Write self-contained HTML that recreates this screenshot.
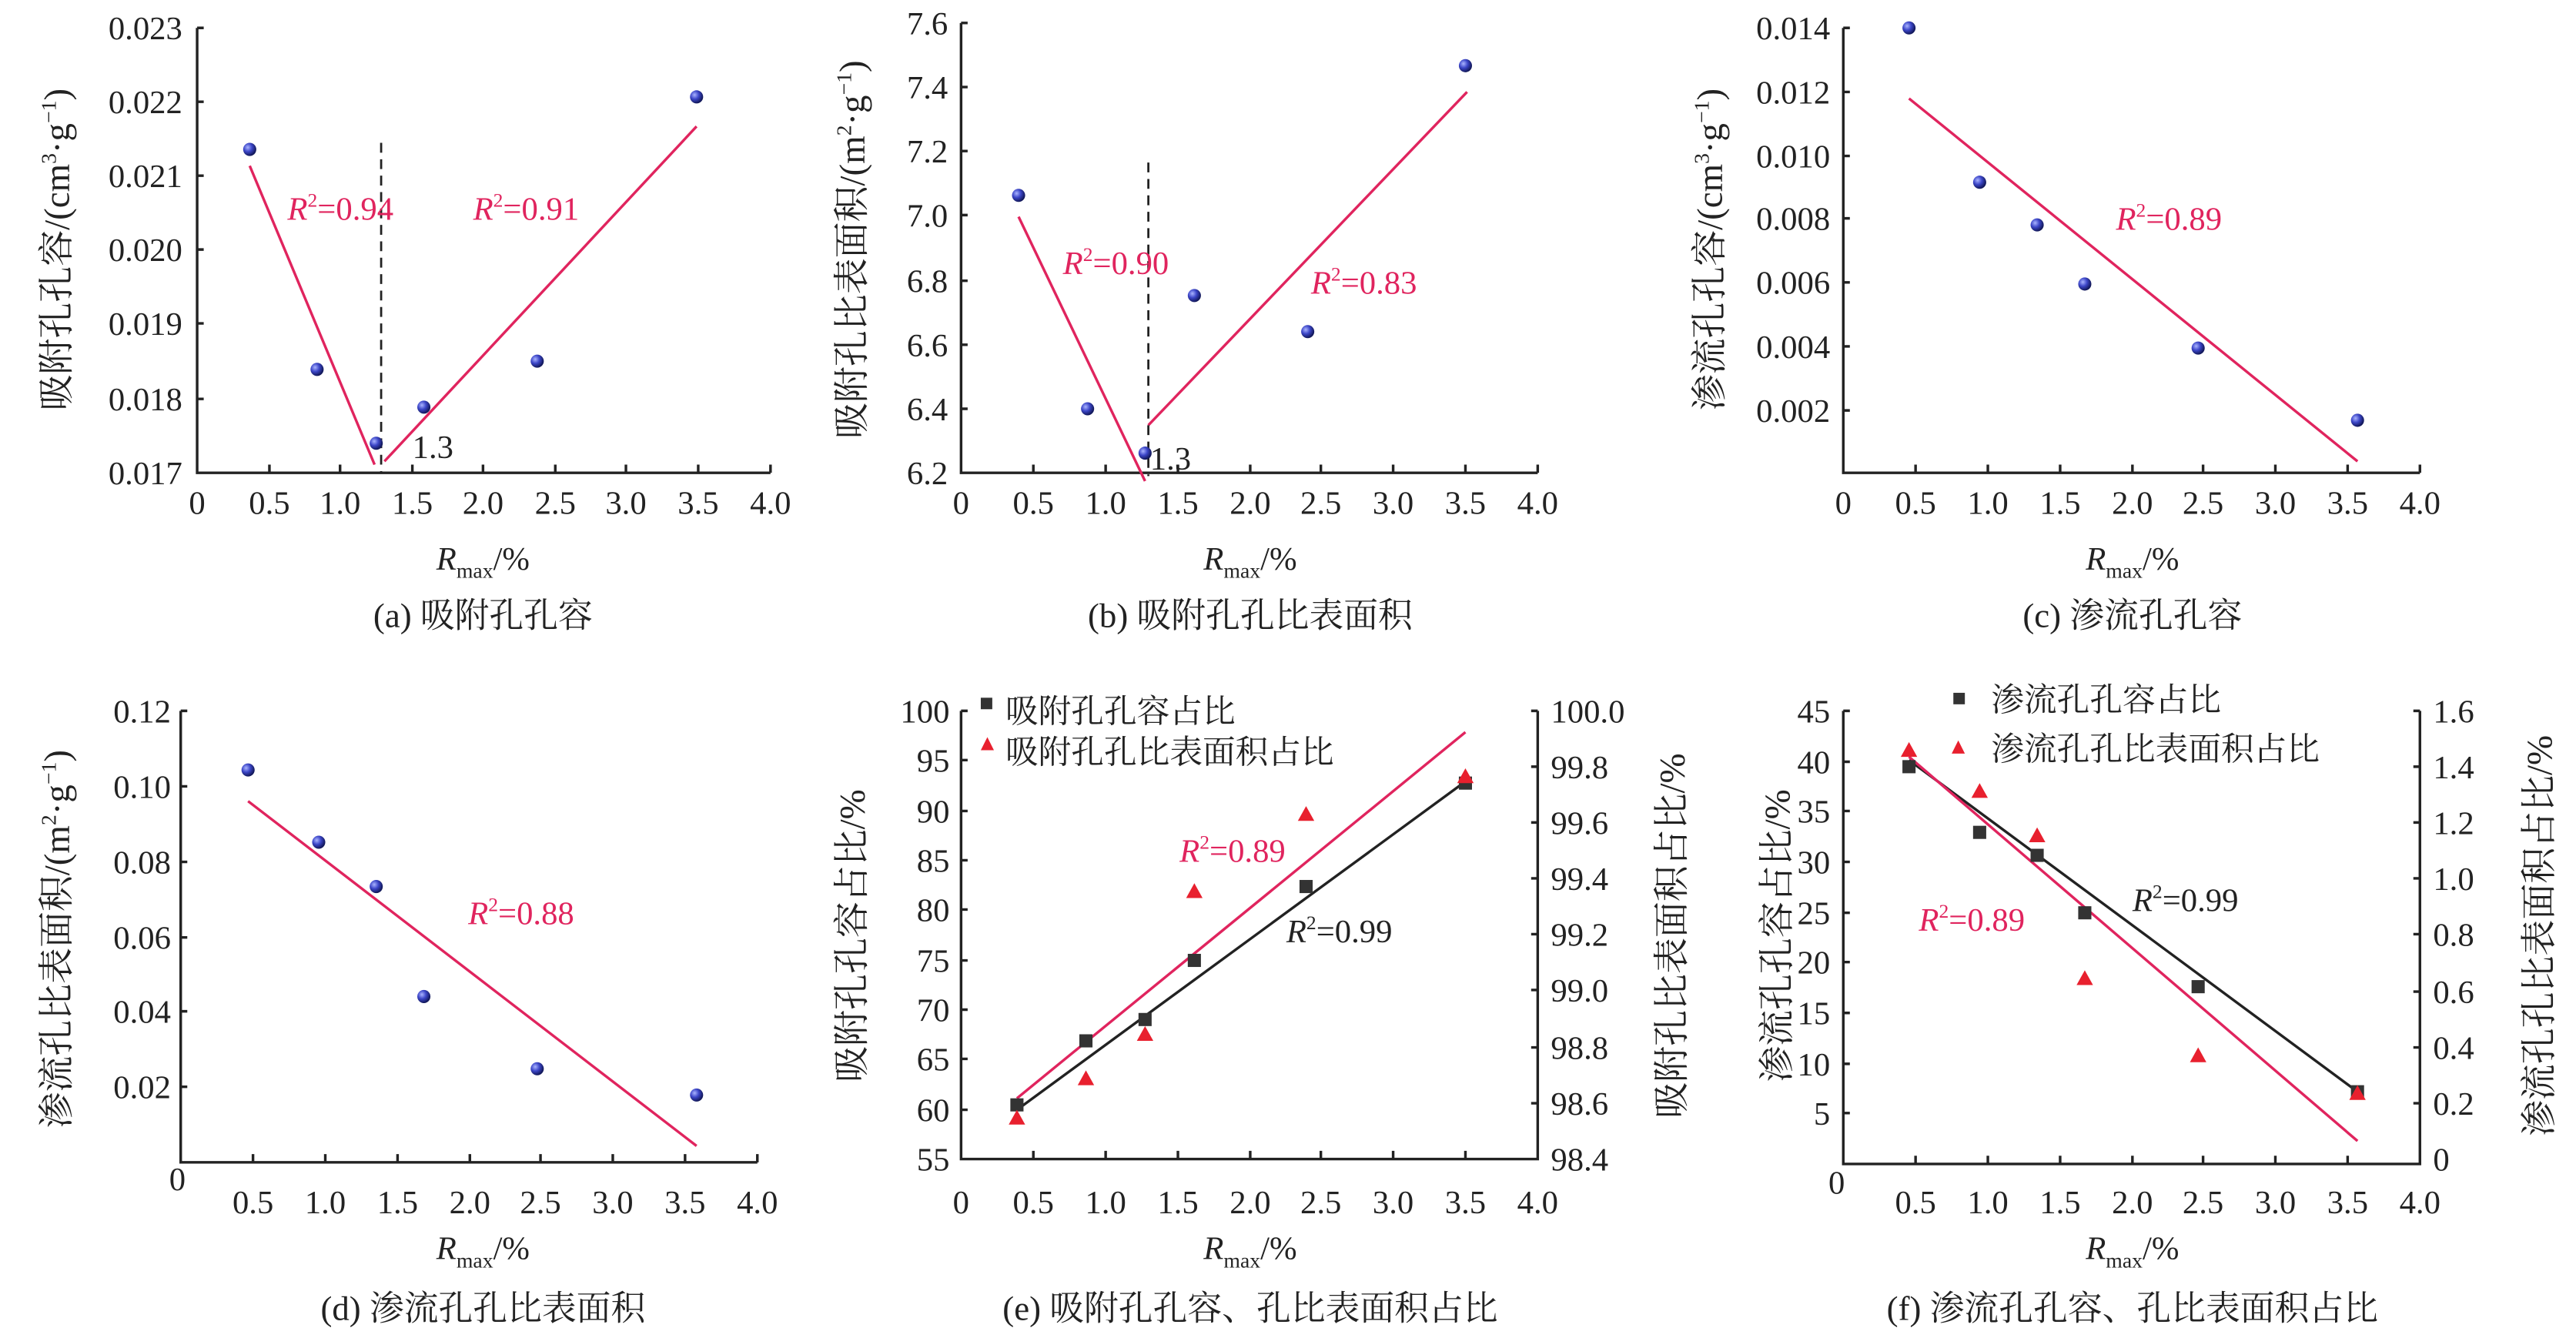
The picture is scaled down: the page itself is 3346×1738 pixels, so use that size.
<!DOCTYPE html>
<html><head><meta charset="utf-8"><style>
html,body{margin:0;padding:0;background:#fff;width:3346px;height:1738px;overflow:hidden}
svg{display:block}
text{font-family:"Liberation Serif","Noto Serif CJK SC","Noto Sans CJK SC",serif;fill:#222;font-size:20px}
.r{fill:#e0245e}
.ax{stroke:#222;stroke-width:1.6;fill:none}
.fit{stroke:#e0245e;stroke-width:1.6}
.bk{stroke:#222;stroke-width:1.6}
.cap{font-size:21px}
.yt{font-size:22px}
</style></head><body>
<svg width="3346" height="1738" viewBox="0 0 1568 815" preserveAspectRatio="none" xmlns="http://www.w3.org/2000/svg">
<defs>
<radialGradient id="ball" cx="35%" cy="35%" r="65%"><stop offset="0" stop-color="#aab4ff"/><stop offset="0.5" stop-color="#3c46c8"/><stop offset="1" stop-color="#12185a"/></radialGradient>
</defs>

<!-- ===== Panel a ===== -->
<path class="ax" d="M120,17 V288 H469"/>
<g class="ax"><path d="M120,17h4M120,62h4M120,107h4M120,152h4M120,197h4M120,243h4"/>
<path d="M164,288v-5M207,288v-5M251,288v-5M294,288v-5M338,288v-5M381,288v-5M425,288v-5M469,288v-5"/></g>
<g text-anchor="end"><text x="111" y="24">0.023</text><text x="111" y="69">0.022</text><text x="111" y="114">0.021</text><text x="111" y="159">0.020</text><text x="111" y="204">0.019</text><text x="111" y="250">0.018</text><text x="111" y="295">0.017</text></g>
<g text-anchor="middle"><text x="120" y="313">0</text><text x="164" y="313">0.5</text><text x="207" y="313">1.0</text><text x="251" y="313">1.5</text><text x="294" y="313">2.0</text><text x="338" y="313">2.5</text><text x="381" y="313">3.0</text><text x="425" y="313">3.5</text><text x="469" y="313">4.0</text></g>
<line class="fit" x1="152" y1="101" x2="228" y2="283"/><line class="fit" x1="234" y1="281" x2="424" y2="77"/>
<line x1="232" y1="87" x2="232" y2="288" stroke="#222" stroke-width="1.3" stroke-dasharray="6,4"/>
<g fill="url(#ball)"><circle cx="152" cy="91" r="4"/><circle cx="193" cy="225" r="4"/><circle cx="229" cy="270" r="4"/><circle cx="258" cy="248" r="4"/><circle cx="327" cy="220" r="4"/><circle cx="424" cy="59" r="4"/></g>
<text x="251" y="279">1.3</text>
<text class="r" x="175" y="134"><tspan font-style="italic">R</tspan><tspan font-size="12" dy="-8">2</tspan><tspan dy="8">=0.94</tspan></text>
<text class="r" x="288" y="134"><tspan font-style="italic">R</tspan><tspan font-size="12" dy="-8">2</tspan><tspan dy="8">=0.91</tspan></text>
<text class="yt" transform="translate(42,152) rotate(-90)" text-anchor="middle">吸附孔孔容/(cm<tspan font-size="13" dy="-8">3</tspan><tspan dy="8">·g</tspan><tspan font-size="13" dy="-8">−1</tspan><tspan dy="8">)</tspan></text>
<text x="294" y="347" text-anchor="middle"><tspan font-style="italic">R</tspan><tspan font-size="13" dy="5">max</tspan><tspan dy="-5">/%</tspan></text>
<text class="cap" x="294" y="382" text-anchor="middle">(a) 吸附孔孔容</text>

<!-- ===== Panel b ===== -->
<path class="ax" d="M585,14 V288 H936"/>
<g class="ax"><path d="M585,14h4M585,53h4M585,92h4M585,131h4M585,171h4M585,210h4M585,249h4"/>
<path d="M629,288v-5M673,288v-5M717,288v-5M761,288v-5M804,288v-5M848,288v-5M892,288v-5M936,288v-5"/></g>
<g text-anchor="end"><text x="577" y="21">7.6</text><text x="577" y="60">7.4</text><text x="577" y="99">7.2</text><text x="577" y="138">7.0</text><text x="577" y="178">6.8</text><text x="577" y="217">6.6</text><text x="577" y="256">6.4</text><text x="577" y="295">6.2</text></g>
<g text-anchor="middle"><text x="585" y="313">0</text><text x="629" y="313">0.5</text><text x="673" y="313">1.0</text><text x="717" y="313">1.5</text><text x="761" y="313">2.0</text><text x="804" y="313">2.5</text><text x="848" y="313">3.0</text><text x="892" y="313">3.5</text><text x="936" y="313">4.0</text></g>
<line class="fit" x1="620" y1="132" x2="697" y2="293"/><line class="fit" x1="699" y1="259" x2="893" y2="56"/>
<line x1="699" y1="99" x2="699" y2="290" stroke="#222" stroke-width="1.3" stroke-dasharray="6,4"/>
<g fill="url(#ball)"><circle cx="620" cy="119" r="4"/><circle cx="662" cy="249" r="4"/><circle cx="697" cy="276" r="4"/><circle cx="727" cy="180" r="4"/><circle cx="796" cy="202" r="4"/><circle cx="892" cy="40" r="4"/></g>
<text x="700" y="286">1.3</text>
<text class="r" x="647" y="167"><tspan font-style="italic">R</tspan><tspan font-size="12" dy="-8">2</tspan><tspan dy="8">=0.90</tspan></text>
<text class="r" x="798" y="179"><tspan font-style="italic">R</tspan><tspan font-size="12" dy="-8">2</tspan><tspan dy="8">=0.83</tspan></text>
<text class="yt" transform="translate(526,152) rotate(-90)" text-anchor="middle">吸附孔比表面积/(m<tspan font-size="13" dy="-8">2</tspan><tspan dy="8">·g</tspan><tspan font-size="13" dy="-8">−1</tspan><tspan dy="8">)</tspan></text>
<text x="761" y="347" text-anchor="middle"><tspan font-style="italic">R</tspan><tspan font-size="13" dy="5">max</tspan><tspan dy="-5">/%</tspan></text>
<text class="cap" x="761" y="382" text-anchor="middle">(b) 吸附孔孔比表面积</text>

<!-- ===== Panel c ===== -->
<path class="ax" d="M1122,17 V288 H1473"/>
<g class="ax"><path d="M1122,17h4M1122,56h4M1122,95h4M1122,133h4M1122,172h4M1122,211h4M1122,250h4"/>
<path d="M1166,288v-5M1210,288v-5M1254,288v-5M1298,288v-5M1341,288v-5M1385,288v-5M1429,288v-5M1473,288v-5"/></g>
<g text-anchor="end"><text x="1114" y="24">0.014</text><text x="1114" y="63">0.012</text><text x="1114" y="102">0.010</text><text x="1114" y="140">0.008</text><text x="1114" y="179">0.006</text><text x="1114" y="218">0.004</text><text x="1114" y="257">0.002</text></g>
<g text-anchor="middle"><text x="1122" y="313">0</text><text x="1166" y="313">0.5</text><text x="1210" y="313">1.0</text><text x="1254" y="313">1.5</text><text x="1298" y="313">2.0</text><text x="1341" y="313">2.5</text><text x="1385" y="313">3.0</text><text x="1429" y="313">3.5</text><text x="1473" y="313">4.0</text></g>
<line class="fit" x1="1162" y1="60" x2="1435" y2="281"/>
<g fill="url(#ball)"><circle cx="1162" cy="17" r="4"/><circle cx="1205" cy="111" r="4"/><circle cx="1240" cy="137" r="4"/><circle cx="1269" cy="173" r="4"/><circle cx="1338" cy="212" r="4"/><circle cx="1435" cy="256" r="4"/></g>
<text class="r" x="1288" y="140"><tspan font-style="italic">R</tspan><tspan font-size="12" dy="-8">2</tspan><tspan dy="8">=0.89</tspan></text>
<text class="yt" transform="translate(1048,152) rotate(-90)" text-anchor="middle">渗流孔孔容/(cm<tspan font-size="13" dy="-8">3</tspan><tspan dy="8">·g</tspan><tspan font-size="13" dy="-8">−1</tspan><tspan dy="8">)</tspan></text>
<text x="1298" y="347" text-anchor="middle"><tspan font-style="italic">R</tspan><tspan font-size="13" dy="5">max</tspan><tspan dy="-5">/%</tspan></text>
<text class="cap" x="1298" y="382" text-anchor="middle">(c) 渗流孔孔容</text>

<!-- ===== Panel d ===== -->
<path class="ax" d="M110,433 V708 H461"/>
<g class="ax"><path d="M110,433h4M110,479h4M110,525h4M110,571h4M110,616h4M110,662h4"/>
<path d="M154,708v-5M198,708v-5M242,708v-5M286,708v-5M329,708v-5M373,708v-5M417,708v-5M461,708v-5"/></g>
<g text-anchor="end"><text x="104" y="440">0.12</text><text x="104" y="486">0.10</text><text x="104" y="532">0.08</text><text x="104" y="578">0.06</text><text x="104" y="623">0.04</text><text x="104" y="669">0.02</text></g>
<g text-anchor="middle"><text x="108" y="725">0</text><text x="154" y="739">0.5</text><text x="198" y="739">1.0</text><text x="242" y="739">1.5</text><text x="286" y="739">2.0</text><text x="329" y="739">2.5</text><text x="373" y="739">3.0</text><text x="417" y="739">3.5</text><text x="461" y="739">4.0</text></g>
<line class="fit" x1="151" y1="488" x2="424" y2="698"/>
<g fill="url(#ball)"><circle cx="151" cy="469" r="4"/><circle cx="194" cy="513" r="4"/><circle cx="229" cy="540" r="4"/><circle cx="258" cy="607" r="4"/><circle cx="327" cy="651" r="4"/><circle cx="424" cy="667" r="4"/></g>
<text class="r" x="285" y="563"><tspan font-style="italic">R</tspan><tspan font-size="12" dy="-8">2</tspan><tspan dy="8">=0.88</tspan></text>
<text class="yt" transform="translate(42,572) rotate(-90)" text-anchor="middle">渗流孔比表面积/(m<tspan font-size="13" dy="-8">2</tspan><tspan dy="8">·g</tspan><tspan font-size="13" dy="-8">−1</tspan><tspan dy="8">)</tspan></text>
<text x="294" y="767" text-anchor="middle"><tspan font-style="italic">R</tspan><tspan font-size="13" dy="5">max</tspan><tspan dy="-5">/%</tspan></text>
<text class="cap" x="294" y="804" text-anchor="middle">(d) 渗流孔孔比表面积</text>

<!-- ===== Panel e ===== -->
<path class="ax" d="M585,433 V706 H936 V433"/>
<g class="ax"><path d="M585,433h4M585,463h4M585,494h4M585,524h4M585,554h4M585,585h4M585,615h4M585,645h4M585,676h4"/>
<path d="M936,467h-4M936,501h-4M936,535h-4M936,569h-4M936,603h-4M936,638h-4M936,672h-4M936,433h-4"/>
<path d="M629,706v-5M673,706v-5M717,706v-5M761,706v-5M804,706v-5M848,706v-5M892,706v-5"/></g>
<g text-anchor="end"><text x="578" y="440">100</text><text x="578" y="470">95</text><text x="578" y="501">90</text><text x="578" y="531">85</text><text x="578" y="561">80</text><text x="578" y="592">75</text><text x="578" y="622">70</text><text x="578" y="652">65</text><text x="578" y="683">60</text><text x="578" y="713">55</text></g>
<g text-anchor="start"><text x="944" y="440">100.0</text><text x="944" y="474">99.8</text><text x="944" y="508">99.6</text><text x="944" y="542">99.4</text><text x="944" y="576">99.2</text><text x="944" y="610">99.0</text><text x="944" y="645">98.8</text><text x="944" y="679">98.6</text><text x="944" y="713">98.4</text></g>
<g text-anchor="middle"><text x="585" y="739">0</text><text x="629" y="739">0.5</text><text x="673" y="739">1.0</text><text x="717" y="739">1.5</text><text x="761" y="739">2.0</text><text x="804" y="739">2.5</text><text x="848" y="739">3.0</text><text x="892" y="739">3.5</text><text x="936" y="739">4.0</text></g>
<line class="bk" x1="619" y1="676" x2="892" y2="476"/>
<line class="fit" x1="619" y1="669" x2="892" y2="446"/>
<g fill="#333"><rect x="615" y="669" width="8" height="8"/><rect x="657" y="630" width="8" height="8"/><rect x="693" y="617" width="8" height="8"/><rect x="723" y="581" width="8" height="8"/><rect x="791" y="536" width="8" height="8"/><rect x="888" y="473" width="8" height="8"/></g>
<g fill="#e8202e"><path d="M619,676l5,9h-10z"/><path d="M661,652l5,9h-10z"/><path d="M697,625l5,9h-10z"/><path d="M727,538l5,9h-10z"/><path d="M795,491l5,9h-10z"/><path d="M892,468l5,9h-10z"/></g>
<rect x="597" y="425" width="7" height="7" fill="#333"/><path d="M601,449l4,8h-8z" fill="#e8202e"/>
<text x="612" y="440">吸附孔孔容占比</text><text x="612" y="465">吸附孔孔比表面积占比</text>
<text class="r" x="718" y="525"><tspan font-style="italic">R</tspan><tspan font-size="12" dy="-8">2</tspan><tspan dy="8">=0.89</tspan></text>
<text x="783" y="574"><tspan font-style="italic">R</tspan><tspan font-size="12" dy="-8">2</tspan><tspan dy="8">=0.99</tspan></text>
<text class="yt" transform="translate(526,570) rotate(-90)" text-anchor="middle">吸附孔孔容占比/%</text>
<text class="yt" transform="translate(1025,570) rotate(-90)" text-anchor="middle">吸附孔比表面积占比/%</text>
<text x="761" y="767" text-anchor="middle"><tspan font-style="italic">R</tspan><tspan font-size="13" dy="5">max</tspan><tspan dy="-5">/%</tspan></text>
<text class="cap" x="761" y="804" text-anchor="middle">(e) 吸附孔孔容、孔比表面积占比</text>

<!-- ===== Panel f ===== -->
<path class="ax" d="M1122,433 V709 H1473 V433"/>
<g class="ax"><path d="M1122,433h4M1122,464h4M1122,494h4M1122,525h4M1122,556h4M1122,586h4M1122,617h4M1122,648h4M1122,678h4"/>
<path d="M1473,433h-4M1473,467h-4M1473,501h-4M1473,535h-4M1473,569h-4M1473,604h-4M1473,638h-4M1473,672h-4"/>
<path d="M1166,709v-5M1210,709v-5M1254,709v-5M1298,709v-5M1341,709v-5M1385,709v-5M1429,709v-5"/></g>
<g text-anchor="end"><text x="1114" y="440">45</text><text x="1114" y="471">40</text><text x="1114" y="501">35</text><text x="1114" y="532">30</text><text x="1114" y="563">25</text><text x="1114" y="593">20</text><text x="1114" y="624">15</text><text x="1114" y="655">10</text><text x="1114" y="685">5</text></g>
<text x="1118" y="727" text-anchor="middle">0</text>
<g text-anchor="start"><text x="1481" y="440">1.6</text><text x="1481" y="474">1.4</text><text x="1481" y="508">1.2</text><text x="1481" y="542">1.0</text><text x="1481" y="576">0.8</text><text x="1481" y="611">0.6</text><text x="1481" y="645">0.4</text><text x="1481" y="679">0.2</text><text x="1481" y="713">0</text></g>
<g text-anchor="middle"><text x="1166" y="739">0.5</text><text x="1210" y="739">1.0</text><text x="1254" y="739">1.5</text><text x="1298" y="739">2.0</text><text x="1341" y="739">2.5</text><text x="1385" y="739">3.0</text><text x="1429" y="739">3.5</text><text x="1473" y="739">4.0</text></g>
<line class="bk" x1="1162" y1="463" x2="1435" y2="665"/>
<line class="fit" x1="1162" y1="461" x2="1435" y2="695"/>
<g fill="#333"><rect x="1158" y="463" width="8" height="8"/><rect x="1201" y="503" width="8" height="8"/><rect x="1236" y="517" width="8" height="8"/><rect x="1265" y="552" width="8" height="8"/><rect x="1334" y="597" width="8" height="8"/><rect x="1431" y="661" width="8" height="8"/></g>
<g fill="#e8202e"><path d="M1162,452l5,9h-10z"/><path d="M1205,477l5,9h-10z"/><path d="M1240,504l5,9h-10z"/><path d="M1269,591l5,9h-10z"/><path d="M1338,638l5,9h-10z"/><path d="M1435,661l5,9h-10z"/></g>
<rect x="1189" y="422" width="7" height="7" fill="#333"/><path d="M1192,451l4,8h-8z" fill="#e8202e"/>
<text x="1212" y="433">渗流孔孔容占比</text><text x="1212" y="463">渗流孔孔比表面积占比</text>
<text x="1298" y="555"><tspan font-style="italic">R</tspan><tspan font-size="12" dy="-8">2</tspan><tspan dy="8">=0.99</tspan></text>
<text class="r" x="1168" y="567"><tspan font-style="italic">R</tspan><tspan font-size="12" dy="-8">2</tspan><tspan dy="8">=0.89</tspan></text>
<text class="yt" transform="translate(1089,570) rotate(-90)" text-anchor="middle">渗流孔孔容占比/%</text>
<text class="yt" transform="translate(1553,570) rotate(-90)" text-anchor="middle">渗流孔孔比表面积占比/%</text>
<text x="1298" y="767" text-anchor="middle"><tspan font-style="italic">R</tspan><tspan font-size="13" dy="5">max</tspan><tspan dy="-5">/%</tspan></text>
<text class="cap" x="1298" y="804" text-anchor="middle">(f) 渗流孔孔容、孔比表面积占比</text>
</svg>
</body></html>
